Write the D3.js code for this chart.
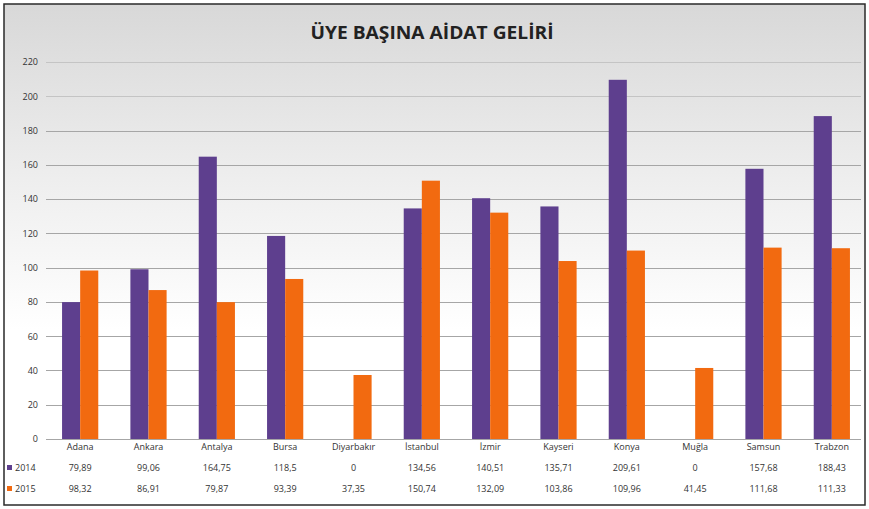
<!DOCTYPE html>
<html>
<head>
<meta charset="utf-8">
<script src="https://cdn.jsdelivr.net/npm/d3@7"></script>
<style>
  body { margin: 0; background: #fff; }
  svg text { font-family: "Open Sans", "DejaVu Sans", sans-serif; }
</style>
</head>
<body>
<div id="chart"></div>
<script>

var cities = ["Adana", "Ankara", "Antalya", "Bursa", "Diyarbakır", "İstanbul",
              "İzmir", "Kayseri", "Konya", "Muğla", "Samsun", "Trabzon"];
var years = ["2014", "2015"];
var values2014 = [79.89, 99.06, 164.75, 118.5, 0, 134.56, 140.51, 135.71, 209.61, 0, 157.68, 188.43];
var values2015 = [98.32, 86.91, 79.87, 93.39, 37.35, 150.74, 132.09, 103.86, 109.96, 41.45, 111.68, 111.33];
var yTicks = [0, 20, 40, 60, 80, 100, 120, 140, 160, 180, 200, 220];
var colors = ["#5e3f8e", "#f26a10"];

var width = 869, height = 509;
var margin = {top: 62, right: 3, bottom: 69, left: 46};

var svg = d3.select("#chart").append("svg")
    .attr("width", width)
    .attr("height", height);

// background gradient, grey on top to white
var defs = svg.append("defs");
var grad = defs.append("linearGradient")
    .attr("id", "bg")
    .attr("x1", 0).attr("y1", 0).attr("x2", 0).attr("y2", 1);
grad.append("stop").attr("offset", "0%").attr("stop-color", "#d8d8d8");
grad.append("stop").attr("offset", "35%").attr("stop-color", "#eeeeee");
grad.append("stop").attr("offset", "65%").attr("stop-color", "#ffffff");
grad.append("stop").attr("offset", "100%").attr("stop-color", "#ffffff");

svg.append("rect")
    .attr("x", 4).attr("y", 4)
    .attr("width", width - 8).attr("height", height - 8)
    .attr("fill", "url(#bg)")
    .attr("stroke", "#2a2a2a")
    .attr("stroke-width", 1.5);

svg.append("text")
    .attr("x", 432)
    .attr("y", 39)
    .attr("text-anchor", "middle")
    .attr("font-size", 18)
    .attr("font-weight", "bold")
    .attr("fill", "#222")
    .attr("textLength", 243)
    .attr("lengthAdjust", "spacingAndGlyphs")
    .text("ÜYE BAŞINA AİDAT GELİRİ");

var x0 = d3.scaleBand()
    .domain(cities)
    .range([margin.left, width - margin.right])
    .paddingInner(0.47)
    .paddingOuter(0.235);

var x1 = d3.scaleBand()
    .domain(years)
    .range([0, x0.bandwidth()]);

var y = d3.scaleLinear()
    .domain([0, 220])
    .range([height - margin.bottom - 1, margin.top]);

// gridlines
svg.append("g")
    .selectAll("line")
    .data(yTicks)
    .enter().append("line")
    .attr("x1", margin.left)
    .attr("x2", width - 8)
    .attr("y1", function (d) { return Math.round(y(d)) + 0.5; })
    .attr("y2", function (d) { return Math.round(y(d)) + 0.5; })
    .attr("stroke", function (d) { return d >= 200 ? "#c4c4c4" : "#a6a6a6"; })
    .attr("stroke-width", 1);

// y axis labels
var yAxis = d3.axisLeft(y).tickValues(yTicks).tickSize(0).tickPadding(0);
var ya = svg.append("g")
    .attr("transform", "translate(" + 38 + ",0)")
    .call(yAxis);
ya.select(".domain").remove();
ya.selectAll("text")
    .attr("font-size", 9)
    .attr("fill", "#333")
    .style("font-family", "'Open Sans', sans-serif");

var series = [values2014, values2015];

var groups = svg.append("g")
    .selectAll("g")
    .data(cities)
    .enter().append("g")
    .attr("transform", function (d) { return "translate(" + x0(d) + ",0)"; });

groups.selectAll("rect")
    .data(function (d, i) {
        return years.map(function (yr, j) { return {year: yr, value: series[j][i], k: j}; });
    })
    .enter().append("rect")
    .attr("x", function (d) { return x1(d.year); })
    .attr("width", x1.bandwidth())
    .attr("y", function (d) { return y(d.value); })
    .attr("height", function (d) { return y(0) - y(d.value); })
    .attr("fill", function (d) { return colors[d.k]; });

// data table below the chart
var fmt = function (v) { return String(v).replace(".", ","); };
var table = svg.append("g");

table.selectAll("text.cat")
    .data(cities)
    .enter().append("text")
    .attr("class", "cat")
    .attr("x", function (d) { return x0(d) + x0.bandwidth() / 2; })
    .attr("y", 450)
    .attr("text-anchor", "middle")
    .attr("font-size", 9)
    .attr("fill", "#333")
    .text(function (d) { return d; });

series.forEach(function (vals, j) {
    var ry = 471 + j * 21;
    table.selectAll("text.v" + j)
        .data(vals)
        .enter().append("text")
        .attr("class", "v" + j)
        .attr("x", function (d, i) { return x0(cities[i]) + x0.bandwidth() / 2; })
        .attr("y", ry)
        .attr("text-anchor", "middle")
        .attr("font-size", 9)
        .attr("fill", "#333")
        .text(fmt);

    table.append("rect")
        .attr("x", 7).attr("y", ry - 6)
        .attr("width", 5).attr("height", 5)
        .attr("fill", colors[j]);

    table.append("text")
        .attr("x", 15)
        .attr("y", ry)
        .attr("font-size", 9)
        .attr("fill", "#333")
        .text(years[j]);
});

</script>
</body>
</html>
